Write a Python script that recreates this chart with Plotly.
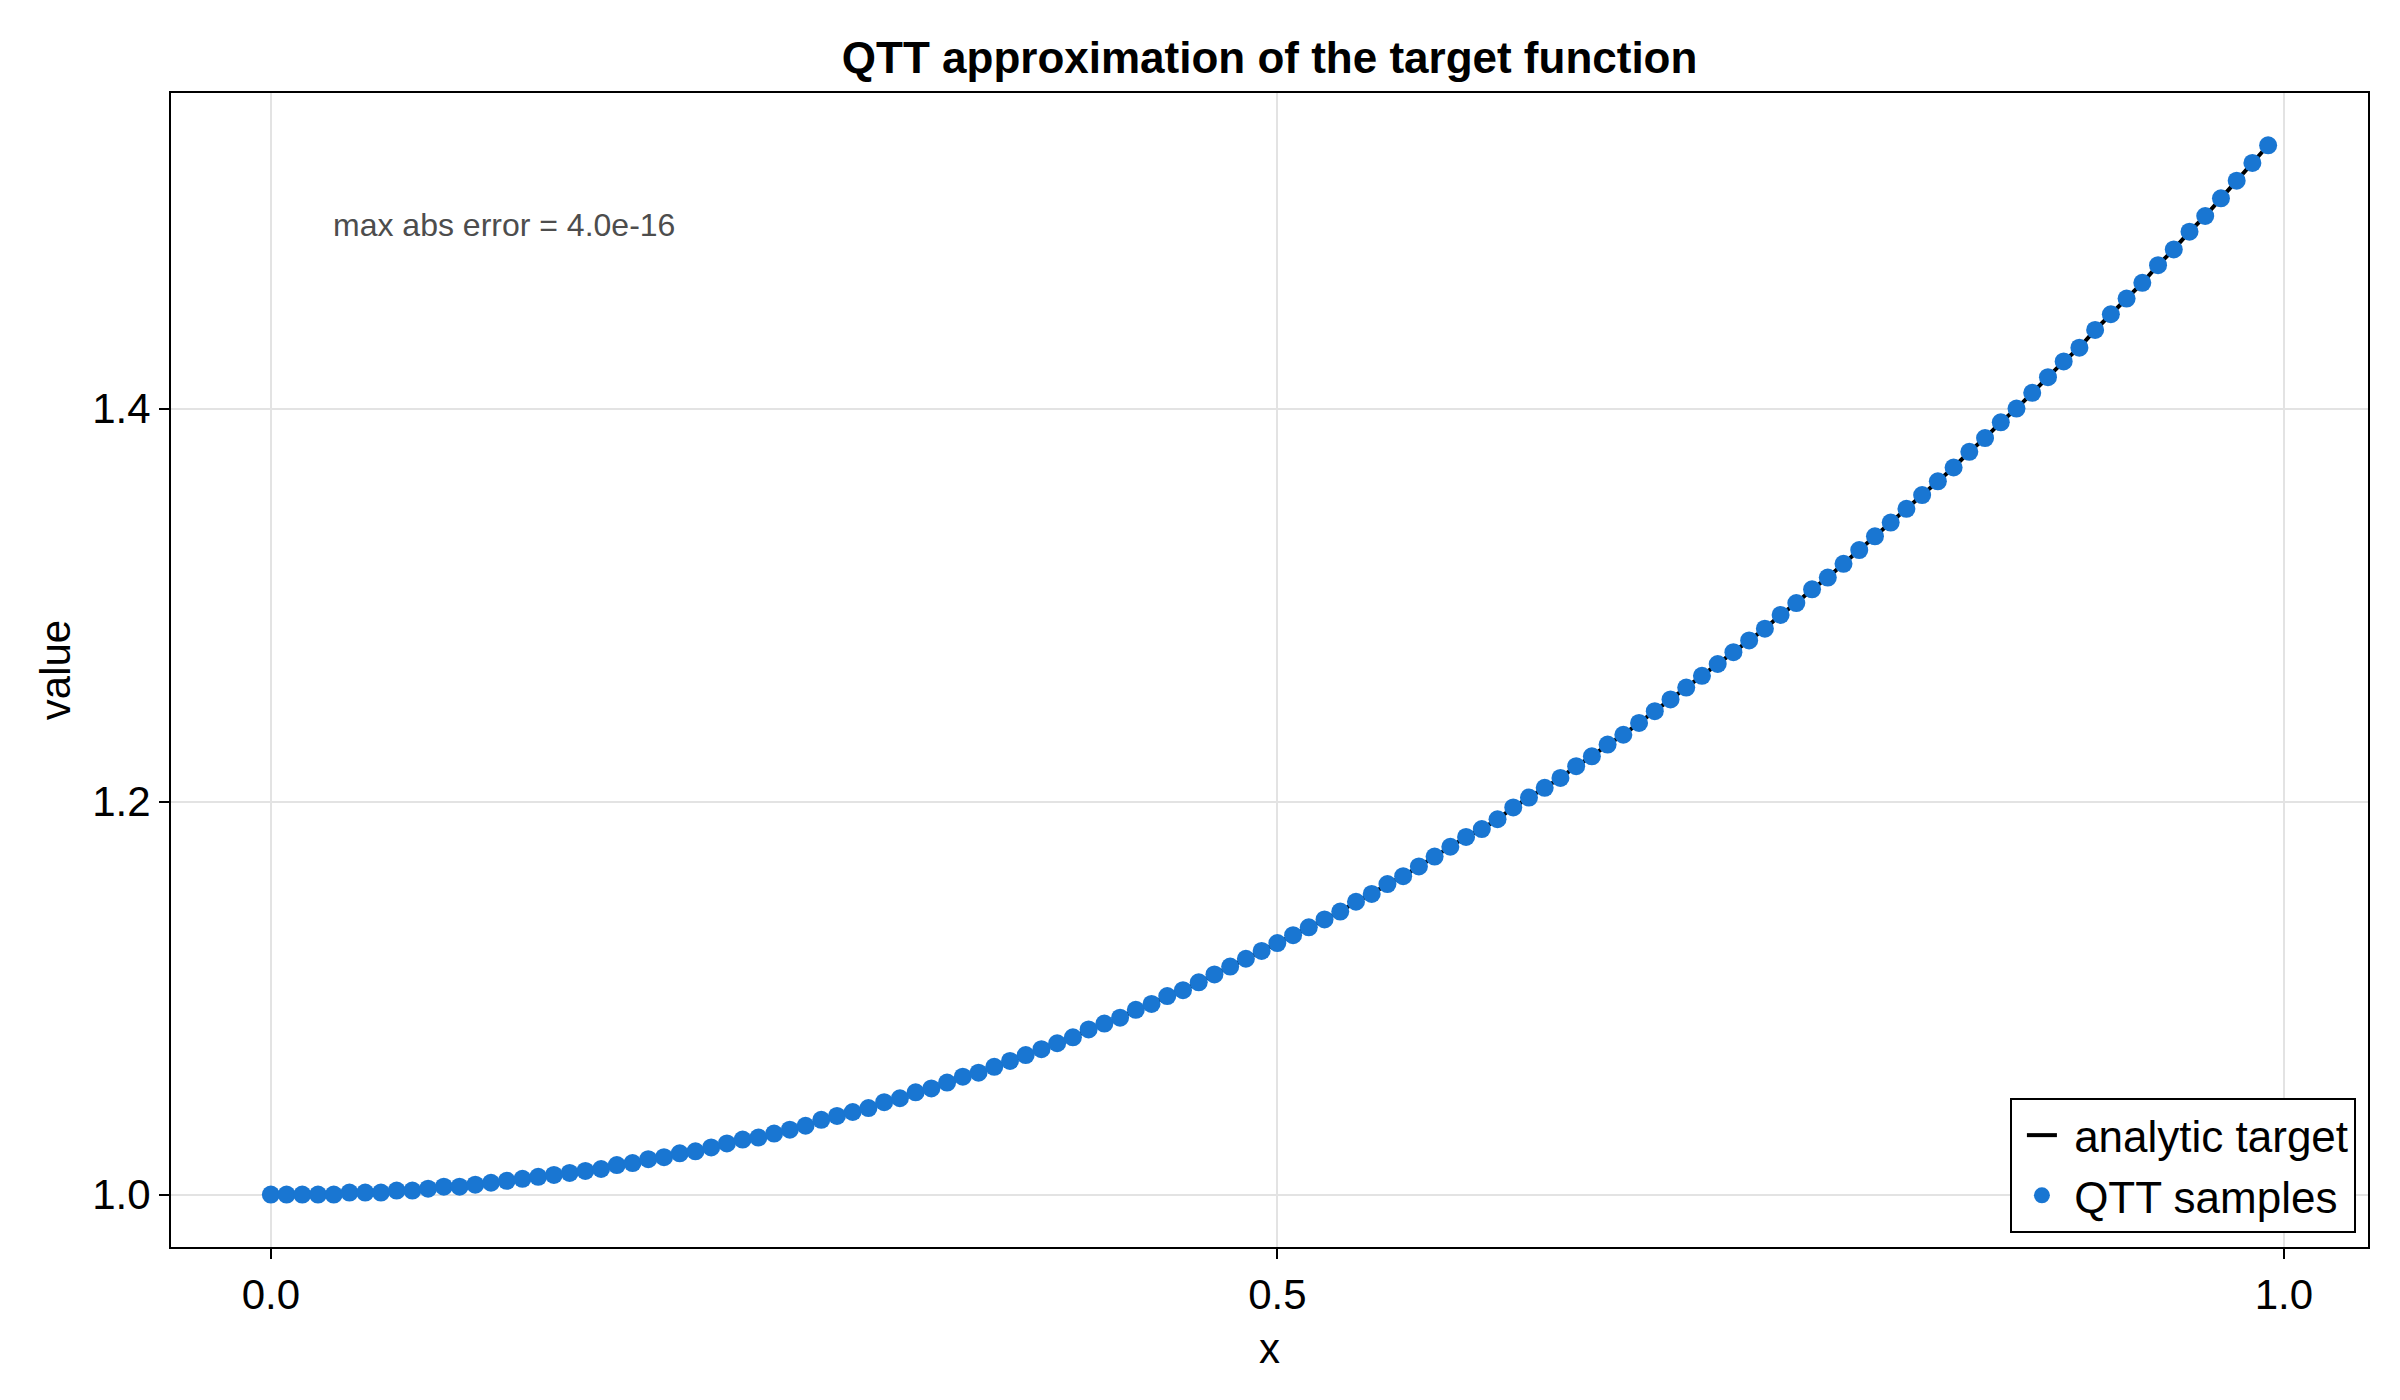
import plotly.graph_objects as go

# Sample positions x_i = i/128 (128 QTT grid points) and values
n_points = 128
x_samples = [i / n_points for i in range(n_points)]
y_samples = [
    1.000, 1.000, 1.000, 1.000, 1.000, 1.001, 1.001, 1.001,
    1.002, 1.002, 1.003, 1.004, 1.004, 1.005, 1.006, 1.007,
    1.008, 1.009, 1.010, 1.011, 1.012, 1.013, 1.015, 1.016,
    1.018, 1.019, 1.021, 1.022, 1.024, 1.026, 1.028, 1.029,
    1.031, 1.033, 1.035, 1.038, 1.040, 1.042, 1.044, 1.047,
    1.049, 1.052, 1.054, 1.057, 1.060, 1.062, 1.065, 1.068,
    1.071, 1.074, 1.077, 1.080, 1.084, 1.087, 1.090, 1.094,
    1.097, 1.101, 1.104, 1.108, 1.112, 1.116, 1.120, 1.124,
    1.128, 1.132, 1.136, 1.140, 1.144, 1.149, 1.153, 1.158,
    1.162, 1.167, 1.172, 1.177, 1.182, 1.186, 1.191, 1.197,
    1.202, 1.207, 1.212, 1.218, 1.223, 1.229, 1.234, 1.240,
    1.246, 1.252, 1.258, 1.264, 1.270, 1.276, 1.282, 1.288,
    1.295, 1.301, 1.308, 1.314, 1.321, 1.328, 1.335, 1.342,
    1.349, 1.356, 1.363, 1.370, 1.378, 1.385, 1.393, 1.400,
    1.408, 1.416, 1.424, 1.431, 1.440, 1.448, 1.456, 1.464,
    1.473, 1.481, 1.490, 1.498, 1.507, 1.516, 1.525, 1.534,
]
# Analytic target drawn as a line through the same grid
x_target = x_samples
y_target = y_samples

x_tickvals = [0.0, 0.5, 1.0]
x_ticktext = ["0.0", "0.5", "1.0"]
y_tickvals = [1.0, 1.2, 1.4]
y_ticktext = ["1.0", "1.2", "1.4"]

title_text = "QTT approximation of the target function"
note_text = "max abs error = 4.0e-16"
note_pos = (0.03, 1.4936)
series_names = ["analytic target", "QTT samples"]

FONT = "Liberation Sans, Arial, Helvetica, sans-serif"

fig = go.Figure()
fig.add_trace(go.Scatter(
    x=x_target, y=y_target, mode="lines", name="\u00a0" + series_names[0],
    line=dict(color="black", width=4),
))
fig.add_trace(go.Scatter(
    x=x_samples, y=y_samples, mode="markers", name="\u00a0" + series_names[1],
    marker=dict(color="#1976D2", size=18, line=dict(width=0)),
))

axis_common = dict(
    showline=True, mirror=True, linecolor="black", linewidth=2,
    showgrid=True, gridcolor="#e3e3e3", gridwidth=2,
    zeroline=False, ticks="outside", ticklen=10, tickwidth=2, tickcolor="black",
    tickfont=dict(family=FONT, size=42, color="black"),
)

fig.update_layout(
    width=2400, height=1400,
    paper_bgcolor="white", plot_bgcolor="white",
    margin=dict(l=171, r=32, t=93, b=153),
    title=dict(text=f"<b>{title_text}</b>", x=0.529, xanchor="center",
               y=1 - 58 / 1400, yanchor="middle", yref="container",
               font=dict(family=FONT, size=44, color="black")),
    xaxis=dict(range=[-0.0496, 1.0418], tickvals=x_tickvals, ticktext=x_ticktext,
               title=dict(text="x", standoff=16, font=dict(family=FONT, size=42, color="black")),
               **axis_common),
    yaxis=dict(range=[0.9733, 1.5606], tickvals=y_tickvals, ticktext=y_ticktext,
               title=dict(text="value", standoff=9, font=dict(family=FONT, size=42, color="black")),
               **axis_common),
    legend=dict(x=0.9945, y=0.0121, xanchor="right", yanchor="bottom",
                bgcolor="white", bordercolor="black", borderwidth=2,
                font=dict(family=FONT, size=44, color="black"),
                indentation=10, tracegroupgap=0),
    showlegend=True,
    annotations=[dict(x=note_pos[0], y=note_pos[1], xref="x", yref="y",
                      text=note_text, showarrow=False, xanchor="left", yanchor="middle",
                      font=dict(family=FONT, size=32, color="#4d4d4d"))],
)

fig.write_html("out.html", config={"displayModeBar": False},
               post_script="document.body.style.margin='0';")
